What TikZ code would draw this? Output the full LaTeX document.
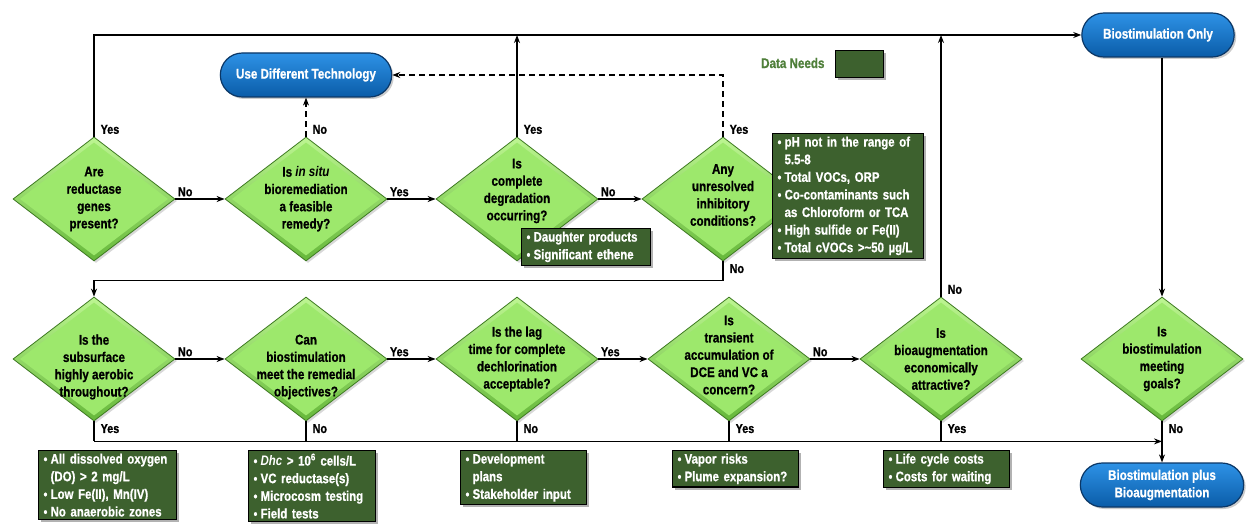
\documentclass[tikz,border=0pt]{standalone}
\usepackage{fontspec}
\setmainfont{Liberation Sans}[FakeStretch=0.83,BoldFeatures={FakeBold=0.8}]
\usetikzlibrary{shapes.geometric,shapes.misc,shadows,arrows.meta}

\newcommand{\askfont}{\bfseries\fontsize{14}{17.3}\selectfont}
\newcommand{\needfont}{\bfseries\fontsize{13.8}{17.6}\selectfont}
\newcommand{\lblfont}{\bfseries\fontsize{13}{14}\selectfont}
\newcommand{\itm}{\makebox[7pt][l]{\fontsize{13}{13}\selectfont\textbullet}}
\newcommand{\cont}{\hspace*{7pt}}

\begin{document}
\begin{tikzpicture}[x=1pt,y=-1pt,
    >={Stealth[length=8pt,width=6pt]},
    flow/.style={line width=1.3pt,black},
    alt/.style={flow,dash pattern=on 6pt off 4pt},
    lbl/.style={font=\lblfont,inner sep=2pt},
    askbox/.style={diamond,minimum width=162pt,minimum height=124pt,inner sep=0pt,
      draw=askedge,line width=0.8pt,top color=askhi,bottom color=asklo,
      drop shadow={opacity=0.3,shadow xshift=2pt,shadow yshift=-2pt}},
    askface/.style={diamond,minimum width=148pt,minimum height=113pt,inner sep=0pt,fill=askfill},
    asktext/.style={align=center,font=\askfont,inner sep=0pt},
    pill/.style={rounded rectangle,minimum height=44pt,inner ysep=2pt,draw=pilledge,line width=1.2pt,
      top color=pillhi,bottom color=pilllo,text=white,font=\askfont,align=center,
      drop shadow={opacity=0.4,shadow xshift=2pt,shadow yshift=-2pt}},
    need/.style={anchor=north west,draw=black,line width=1.2pt,fill=needfill,text=white,
      font=\needfont,align=left,inner xsep=5pt,inner ysep=3pt,
      drop shadow={opacity=0.6,shadow xshift=2.5pt,shadow yshift=-2.5pt}}]
  \definecolor{askhi}{HTML}{BDF592}
  \definecolor{asklo}{HTML}{66B83A}
  \definecolor{askfill}{HTML}{9DE86C}
  \definecolor{askedge}{HTML}{3E7A22}
  \definecolor{pillhi}{HTML}{2E92E6}
  \definecolor{pilllo}{HTML}{0A5CA8}
  \definecolor{pilledge}{HTML}{0B3766}
  \definecolor{needfill}{HTML}{3D612E}
  \definecolor{keygreen}{HTML}{4F7F3A}
  \newcommand{\ask}[4][0pt]{% shift, name, centre, question
    \node[askbox] (#2) at (#3) {};
    \node[askface] (#2-f) at (#2) {};
    \node[asktext] (#2-t) at ([yshift=#1]#2) {#4};}

  \path[use as bounding box,fill=white] (0,0) rectangle (1248,529);

  % questions
  \ask{genes}{94,199}{Are\\reductase\\genes\\present?}
  \ask{insitu}{306,199}{Is \textit{in situ}\\bioremediation\\a feasible\\remedy?}
  \ask[8pt]{degr}{517,199}{Is\\complete\\degradation\\occurring?}
  \ask[4pt]{inhib}{723,199}{Any\\unresolved\\inhibitory\\conditions?}
  \ask[-8pt]{aerobic}{94,359}{Is the\\subsurface\\highly aerobic\\throughout?}
  \ask[-8pt]{canbio}{306,359}{Can\\biostimulation\\meet the remedial\\objectives?}
  \ask{lag}{517,359}{Is the lag\\time for complete\\dechlorination\\acceptable?}
  \ask[4pt]{trans}{729,359}{Is\\transient\\accumulation of\\DCE and VC a\\concern?}
  \ask{bioaug}{941,359}{Is\\bioaugmentation\\economically\\attractive?}
  \ask{goals}{1162,359}{Is\\biostimulation\\meeting\\goals?}

  % outcomes
  \node[pill,minimum width=178pt] (udt) at (306,75) {Use Different Technology};
  \node[pill,minimum width=159pt] (bonly) at (1158,35) {Biostimulation Only};
  \node[pill,minimum width=170pt] (bplus) at (1162,485) {Biostimulation plus\\Bioaugmentation};

  % data needs
  \node[font=\askfont,text=keygreen,anchor=east] (dnlabel) at (828,63) {Data Needs};
  \node[need,minimum width=48pt,minimum height=27pt,inner sep=0pt] (dnkey) at (835,50) {};
  \node[need,text width=119pt] (needDegr) at (521,228) {\itm Daughter products\\\itm Significant ethene};
  \node[need,text width=141pt] (needInhib) at (772,133) {\itm pH not in the range of\\\cont 5.5-8\\
    \itm Total VOCs, ORP\\\itm Co-contaminants such\\\cont as Chloroform or TCA\\
    \itm High sulfide or Fe(II)\\\itm Total cVOCs >\textasciitilde 50 µg/L};
  \node[need,text width=128pt] (needAerobic) at (38,450) {\itm All dissolved oxygen\\\cont (DO) > 2 mg/L\\
    \itm Low Fe(II), Mn(IV)\\\itm No anaerobic zones};
  \node[need,text width=117pt] (needCanbio) at (248,450) {\itm \textit{Dhc} > 10\textsuperscript{6} cells/L\\
    \itm VC reductase(s)\\\itm Microcosm testing\\\itm Field tests};
  \node[need,text width=116pt] (needLag) at (460,450) {\itm Development\\\cont plans\\\itm Stakeholder input};
  \node[need,text width=116pt] (needTrans) at (672,450) {\itm Vapor risks\\\itm Plume expansion?};
  \node[need,text width=116pt] (needBioaug) at (883,450) {\itm Life cycle costs\\\itm Costs for waiting};

  % top row
  \draw[flow,->] (genes.east) node[lbl,above right] {No} -- (insitu.west);
  \draw[flow,->] (insitu.east) node[lbl,above right] {Yes} -- (degr.west);
  \draw[flow,->] (degr.east) node[lbl,above right] {No} -- (inhib.west);
  \draw[flow,->] (genes.north) node[lbl,above right,xshift=4pt] {Yes} |- (bonly.west);
  \draw[flow,->] (degr.north) node[lbl,above right,xshift=4pt] {Yes} -- (degr |- bonly.west);
  \draw[flow,->] (bioaug.north) node[lbl,above right,xshift=4pt] {No} -- (bioaug |- bonly.west);
  \draw[alt,->] (insitu.north) node[lbl,above right,xshift=4pt] {No} -- (udt.south);
  \draw[alt,->] (inhib.north) node[lbl,above right,xshift=4pt] {Yes} |- (udt.east);
  \draw[flow,->] (inhib.south) node[lbl,below right,xshift=4pt] {No} -- ++(0,19) -| (aerobic.north);
  \draw[flow,->] (goals |- bonly.south) -- (goals.north);

  % bottom row
  \draw[flow,->] (aerobic.east) node[lbl,above right] {No} -- (canbio.west);
  \draw[flow,->] (canbio.east) node[lbl,above right] {Yes} -- (lag.west);
  \draw[flow,->] (lag.east) node[lbl,above right] {Yes} -- (trans.west);
  \draw[flow,->] (trans.east) node[lbl,above right] {No} -- (bioaug.west);
  \draw[flow] (aerobic.south) node[lbl,below right,xshift=4pt] {Yes} -- ++(0,20) coordinate (botL);
  \draw[flow,->] (botL) -- (botL -| goals);
  \foreach \q/\a in {canbio/No,lag/No,trans/Yes,bioaug/Yes}
    \draw[flow] (\q.south) node[lbl,below right,xshift=4pt] {\a} -- (\q.south |- botL);
  \draw[flow,->] (goals.south) node[lbl,below right,xshift=4pt] {No} -- (bplus.north);
\end{tikzpicture}
\end{document}
